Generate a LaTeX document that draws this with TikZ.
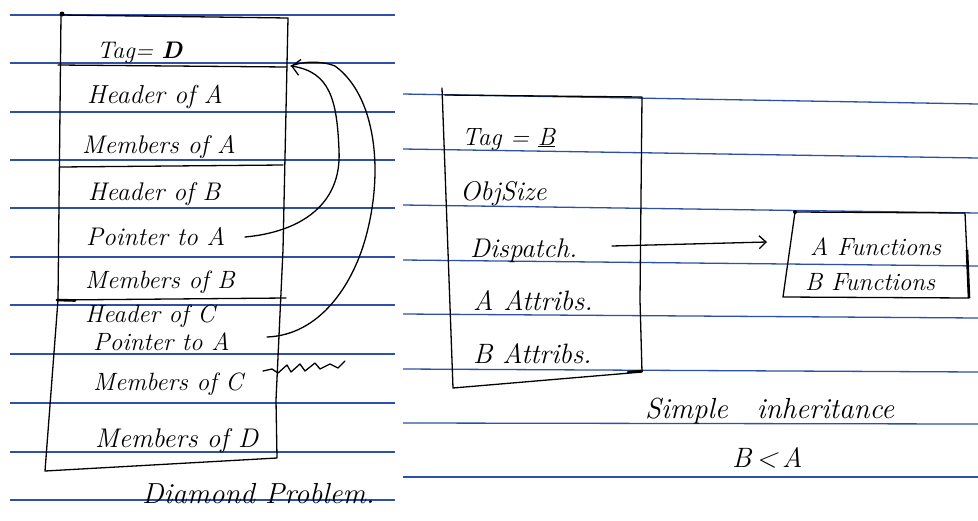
\documentclass[tikz,border=0pt]{standalone}
\usetikzlibrary{arrows.meta}
\definecolor{ruled}{RGB}{45,80,168}
\begin{document}
\begin{tikzpicture}[x=1pt,y=-1pt,
  ink/.style={line width=1.3pt, black, line cap=round, line join=round},
  rule/.style={line width=1.3pt, ruled},
  hand/.style={font=\fontsize{#1}{#1}\selectfont\itshape, inner sep=0pt, anchor=base west},
  hand/.default=24,
  ptrtip/.style={-{Straight Barb[length=8pt,width=16pt,line width=1.3pt]}},
  disptip/.style={-{Straight Barb[length=7pt,width=13pt,line width=1.3pt]}}
]
\fill[white] (0,0) rectangle (978,520);
\useasboundingbox (0,0) rectangle (978,520);
% ruled lines, left page
\foreach \yy in {15,63,112,160,208,257,305,354,403,452,500}
  \draw[rule] (10,\yy) -- (395,\yy);
% ruled lines, right page
\foreach \yy/\dd in {94/10,149/9,205/8,260/6,314/4,369/3,423/1,477/0}
  \draw[rule] (403,\yy) -- (978,\yy+\dd);

% ---- left object layout (Diamond problem)
\draw[ink] (61,15) -- (58,300) -- (45,471) -- (277,458) -- (276,400) -- (283,250) -- (288,18) -- cycle;
\fill (62,14) circle (2.5pt);
\draw[ink] (58,65) -- (287,67);
\draw[ink] (60,167) -- (283,165);
\draw[ink] (57,300) -- (286,298);
\draw[line width=2.6pt, line cap=round] (57,300) -- (75,300.5);

\node[hand=24] (tagD) at (97,58) {Tag= \textbf{D}};
\node[hand=26] (hA) at (87,103) {Header of A};
\node[hand=25.5] (mA) at (82,153) {Members of A};
\node[hand=25.5] (hB) at (88,200) {Header of B};
\node[hand=25.5] (pB) at (86,245) {Pointer to A};
\node[hand=25] (mB) at (85,288) {Members of B};
\node[hand=25] (hC) at (85,322) {Header of C};
\node[hand=25] (pC) at (93,350) {Pointer to A};
\node[hand=25] (mC) at (93,390) {Members of C};
\node[hand=27] (mD) at (95,447) {Members of D};
\node[hand=29] (diam) at (142,503) {Diamond Problem.};

\coordinate (tA) at (291,66);
\coordinate (sB) at (245,237);
\coordinate (sC) at (267,337);
\draw[ink,ptrtip] (sB) .. controls (300,232) and (342,205) .. (339,150)
                  .. controls (337,100) and (330,72) .. (tA);
\draw[ink] (sC) .. controls (320,335) and (352,285) .. (365,240)
           .. controls (385,170) and (375,95) .. (335,66)
           .. controls (320,60) and (300,62) .. (tA);
% crossed-out scribble
\draw[ink] (263,371) -- (272,369) -- (278,373) -- (287,365) -- (291,372) -- (300,364)
  -- (305,371) -- (315,363) -- (320,369) -- (330,364) -- (338,368) -- (345,361);

% ---- right object layout (simple inheritance)
\draw[ink] (445,95) -- (642,97) -- (640,300) -- (642,372) -- (453,388) -- (442,88);
\draw[line width=2.4pt, line cap=round] (628,372) -- (642,371);

\node[hand=25] (tagB) at (462,145) {Tag = \underline{B}};
\node[hand=27] (osz) at (460,200) {ObjSize};
\node[hand=27] (disp) at (470,257) {Dispatch.};
\node[hand=28] (aat) at (473,310) {A Attribs.};
\node[hand=28] (bat) at (473,363) {B Attribs.};

\draw[ink] (795,212) -- (965,213) -- (969,298) -- (783,297) -- cycle;
\fill (795,212) circle (2pt);
\draw[line width=2.6pt] (967,250) -- (969,298);
\node[hand=25] (fA) at (810,255) {A Functions};
\node[hand=25] (fB) at (805,290) {B Functions};

\coordinate (dS) at (612,246);
\coordinate (dE) at (767,242);
\draw[ink,disptip] (dS) -- (dE);

\node[hand=29] (simp) at (645,418) {Simple\quad inheritance};
\node[hand=28] (blta) at (732,467) {B\,<\,A};
\end{tikzpicture}
\end{document}
